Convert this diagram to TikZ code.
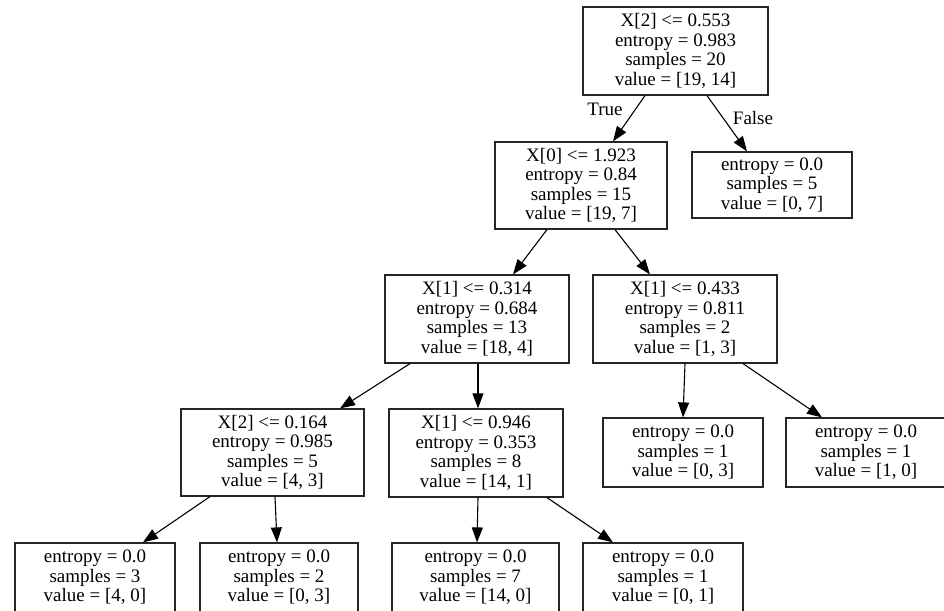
\documentclass[tikz,border=0pt]{standalone}
\usepackage{fontspec}
\setmainfont{Liberation Serif}
\usetikzlibrary{arrows.meta}
\begin{document}
\begin{tikzpicture}[x=1pt,y=-1pt,
  tnode/.style={draw=black!85, line width=1.2pt, align=center, inner sep=0pt,
    font=\fontsize{19}{19.5}\selectfont},
  split/.style={tnode, minimum height=88pt},
  leaf/.style={tnode, minimum height=68pt},
  edge/.style={line width=1.1pt, -{Triangle[length=15pt,width=11pt]}},
  lbl/.style={font=\fontsize{19}{19.5}\selectfont, inner sep=0pt}]
\useasboundingbox (0,0) rectangle (944,610);
\node[split, minimum width=185pt] (root) at (675.5,51) {X[2] <= 0.553\\entropy = 0.983\\samples = 20\\value = [19, 14]};
\node[split, minimum width=172pt, minimum height=87pt] (x0) at (581,185.5) {X[0] <= 1.923\\entropy = 0.84\\samples = 15\\value = [19, 7]};
\node[leaf, minimum width=160pt, minimum height=66pt] (lr) at (772,185) {entropy = 0.0\\samples = 5\\value = [0, 7]};
\node[split, minimum width=184pt] (a) at (477,319) {X[1] <= 0.314\\entropy = 0.684\\samples = 13\\value = [18, 4]};
\node[split, minimum width=184pt] (b) at (685,319) {X[1] <= 0.433\\entropy = 0.811\\samples = 2\\value = [1, 3]};
\node[split, minimum width=183pt, minimum height=87pt] (c) at (272.5,452.5) {X[2] <= 0.164\\entropy = 0.985\\samples = 5\\value = [4, 3]};
\node[split, minimum width=174pt] (d) at (476,453) {X[1] <= 0.946\\entropy = 0.353\\samples = 8\\value = [14, 1]};
\node[leaf, minimum width=160pt, minimum height=69pt] (b1) at (683,452.5) {entropy = 0.0\\samples = 1\\value = [0, 3]};
\node[leaf, minimum width=160pt, minimum height=69pt] (b2) at (866,452.5) {entropy = 0.0\\samples = 1\\value = [1, 0]};
\node[leaf, minimum width=160pt, minimum height=69pt] (l1) at (95,577.5) {entropy = 0.0\\samples = 3\\value = [4, 0]};
\node[leaf, minimum width=158pt, minimum height=69pt] (l2) at (279,577.5) {entropy = 0.0\\samples = 2\\value = [0, 3]};
\node[leaf, minimum width=167pt, minimum height=69pt] (l3) at (475.5,577.5) {entropy = 0.0\\samples = 7\\value = [14, 0]};
\node[leaf, minimum width=160pt, minimum height=69pt] (l4) at (663,577.5) {entropy = 0.0\\samples = 1\\value = [0, 1]};
\draw[edge] ([xshift=-30.5pt]root.south) -- ([xshift=32pt]x0.north);
\draw[edge] ([xshift=31.5pt]root.south) -- ([xshift=-25pt]lr.north);
\draw[edge] ([xshift=-34pt]x0.south) -- ([xshift=36pt]a.north);
\draw[edge] ([xshift=34pt]x0.south) -- ([xshift=-35pt]b.north);
\draw[edge] ([xshift=-67pt]a.south) -- ([xshift=67.5pt]c.north);
\draw[edge] ([xshift=1pt]a.south) -- ([xshift=2pt]d.north);
\draw[edge] ([xshift=-62.5pt]c.south) -- ([xshift=48pt]l1.north);
\draw[edge] ([xshift=2.5pt]c.south) -- ([xshift=-2pt]l2.north);
\draw[edge] ([xshift=2pt]d.south) -- ([xshift=1.5pt]l3.north);
\draw[edge] ([xshift=71pt]d.south) -- ([xshift=-50pt]l4.north);
\draw[edge] (b.south) -- (b1.north);
\draw[edge] ([xshift=58pt]b.south) -- ([xshift=-44pt]b2.north);
\node[lbl] (ltrue) at (605,109) {True};
\node[lbl] (lfalse) at (753,118) {False};
\end{tikzpicture}
\end{document}
